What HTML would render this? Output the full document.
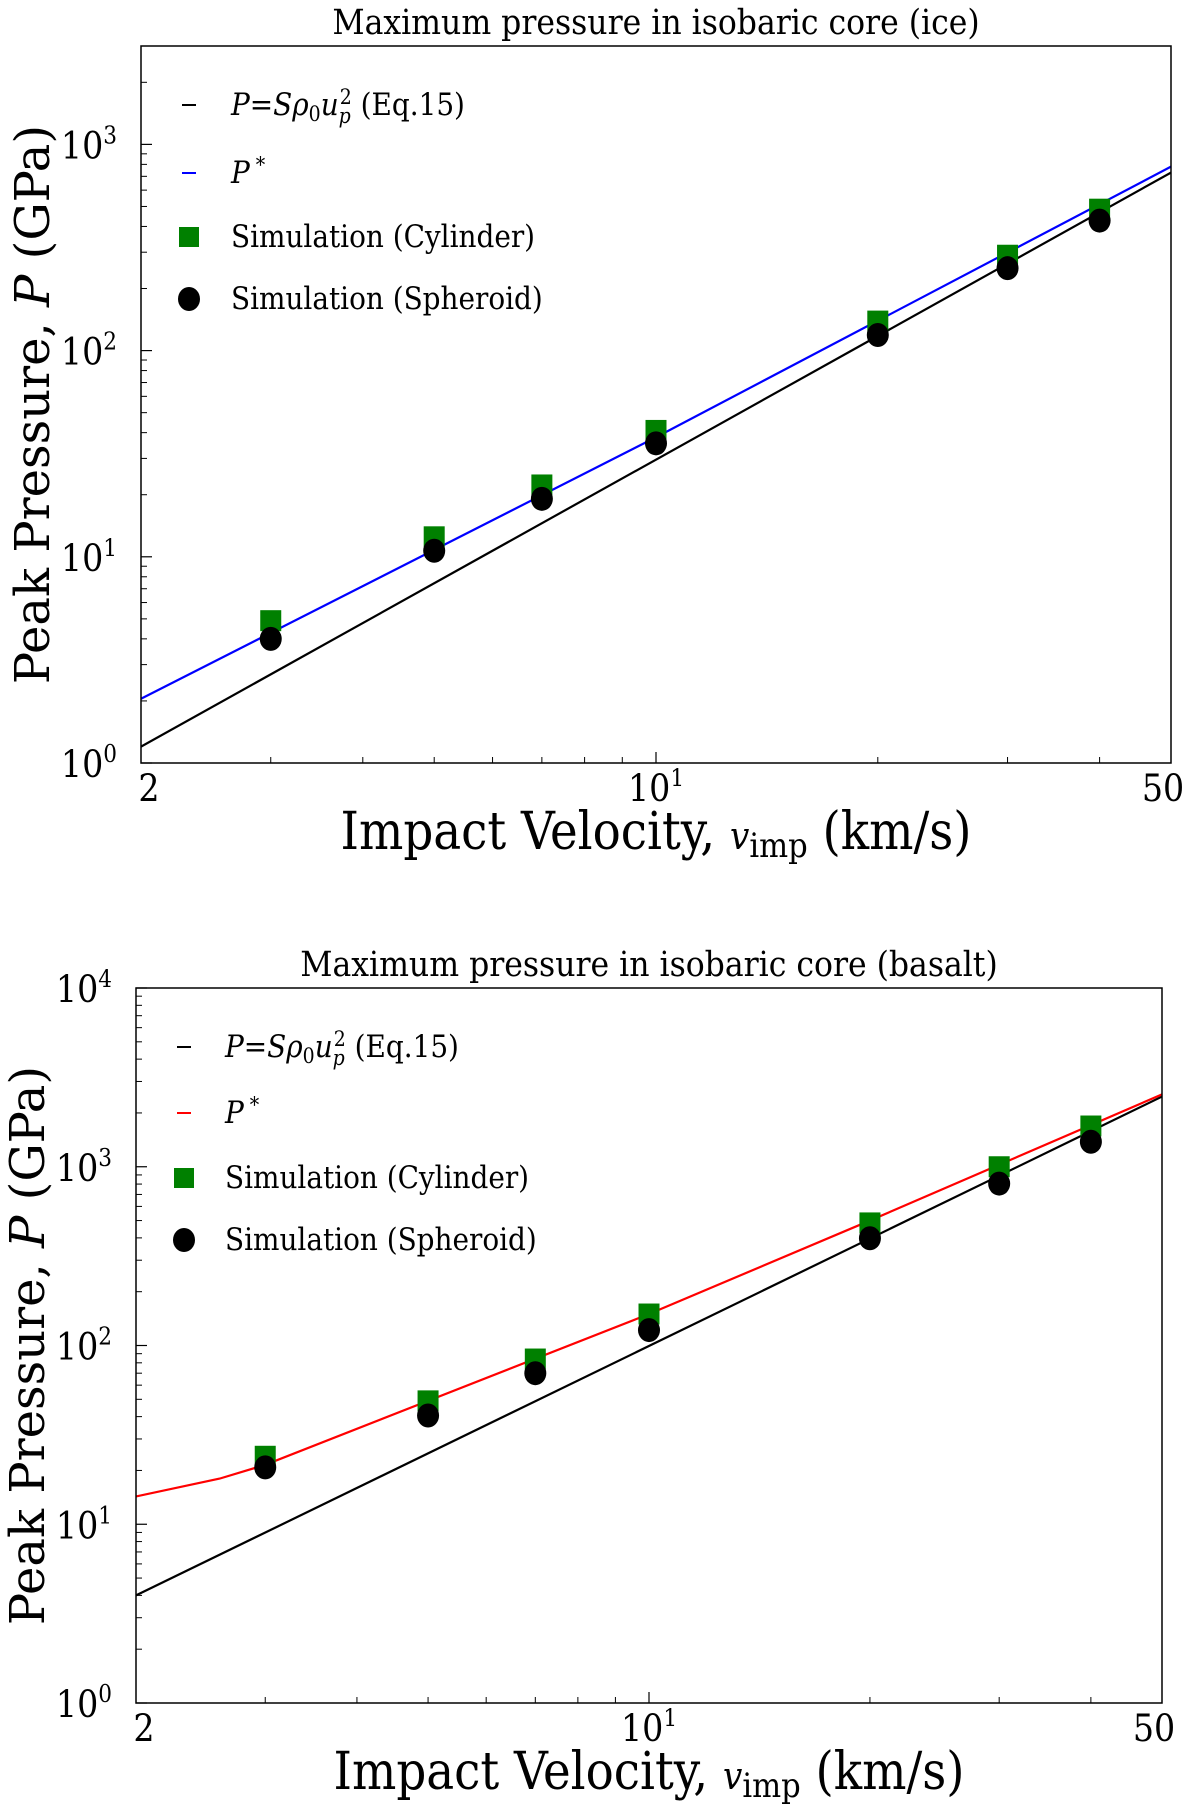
<!DOCTYPE html>
<html><head><meta charset="utf-8"><style>
body{margin:0;background:#fff}
svg text{font-family:"DejaVu Serif Condensed","DejaVu Serif","Liberation Serif",serif;font-stretch:condensed;fill:#000}
</style></head><body>
<svg id="fig" width="1200" height="1808" viewBox="0 0 1200 1808" xmlns="http://www.w3.org/2000/svg"></svg>
<script>
// ---- data: ice ----
const velocities = [3, 5, 7, 10, 20, 30, 40];
const iceCylinder = [4.9, 12.5, 22.3, 41, 139, 290, 485];
const iceSpheroid = [4.0, 10.7, 19.1, 35.5, 119, 251, 427];
const iceEqVel = [2, 50];
const iceEqP = [1.2, 730];
const iceStarVel = [2, 10, 50];
const iceStarP = [2.05, 38, 780];
// ---- data: basalt ----
const basCylinder = [24, 49, 84, 150, 485, 1000, 1690];
const basSpheroid = [20.8, 40.6, 70, 122, 398, 805, 1380];
const basEqVel = [2, 50];
const basEqP = [4.0, 2470];
const basStarVel = [2, 2.6, 3, 10, 20, 50];
const basStarP = [14.3, 18, 21.5, 150, 500, 2540];
const xTickLabels = ["2", "10", "50"];
const xTickValues = [2, 10, 50];

const NS = "http://www.w3.org/2000/svg";
const svg = document.getElementById('fig');
function mk(tag, attrs, parent) {
  const e = document.createElementNS(NS, tag);
  for (const k in attrs) e.setAttribute(k, attrs[k]);
  (parent || svg).appendChild(e);
  return e;
}

function drawPanel(cfg) {
  const g = mk('g', {});
  
  
  const lx0 = Math.log10(2), lx1 = Math.log10(50);
  const ly0 = Math.log10(cfg.ymin), ly1 = Math.log10(cfg.ymax);
  const X = v => cfg.L + (Math.log10(v) - lx0) / (lx1 - lx0) * (cfg.R - cfg.L);
  const Y = v => cfg.B - (Math.log10(v) - ly0) / (ly1 - ly0) * (cfg.B - cfg.T);

  const t = mk('text', {x: (cfg.L + cfg.R) / 2, y: cfg.T - 12, 'text-anchor': 'middle', 'font-size': 35}, g);
  t.textContent = cfg.title;
  
  

  const cid = cfg.name + '-clip';
  const cp = mk('clipPath', {id: cid}, g);
  mk('rect', {x: cfg.L, y: cfg.T, width: cfg.R - cfg.L, height: cfg.B - cfg.T}, cp);

  const minorX = [3,4,5,6,7,8,9,20,30,40];
  minorX.forEach(v => mk('line', {x1: X(v), x2: X(v), y1: cfg.B, y2: cfg.B - 6, stroke: '#000', 'stroke-width': 1}, g));
  xTickValues.forEach((v, i) => {
    if (v === 10) mk('line', {x1: X(v), x2: X(v), y1: cfg.B, y2: cfg.B - 11, stroke: '#000', 'stroke-width': 1.2}, g);
    const tx = mk('text', {x: X(v) + (i === 0 ? 8 : i === 2 ? -8 : 0), y: cfg.B + 38, 'text-anchor': 'middle', 'font-size': 37}, g);
    
    
    if (v === 10) { tx.textContent = '10'; const s = mk('tspan', {dy: -15, 'font-size': 24}, tx); s.textContent = '1'; }
    else tx.textContent = xTickLabels[i];
  });
  for (let d = ly0; d <= ly1; d++) {
    const base = Math.pow(10, d);
    mk('line', {x1: cfg.L, x2: cfg.L + 11, y1: Y(base), y2: Y(base), stroke: '#000', 'stroke-width': 1.2}, g);
    for (let m = 2; m <= 9; m++) {
      const v = base * m;
      if (v > cfg.ymax) break;
      mk('line', {x1: cfg.L, x2: cfg.L + 6, y1: Y(v), y2: Y(v), stroke: '#000', 'stroke-width': 1}, g);
    }
    const ty = mk('text', {x: cfg.L - 24, y: Y(base) + 14, 'text-anchor': 'end', 'font-size': 37}, g);
    
    
    ty.textContent = '10';
    const s = mk('tspan', {dy: -15, 'font-size': 24}, ty); s.textContent = String(d);
  }

  const pg = mk('g', {'clip-path': 'url(#' + cid + ')'}, g);
  function line(vs, ps, color, name) {
    const p = mk('polyline', {points: vs.map((v, i) => X(v) + ',' + Y(ps[i])).join(' '), fill: 'none', stroke: color, 'stroke-width': 2.2}, pg);
    
    
  }
  line(cfg.eqV, cfg.eqP, '#000', 'eq15-line');
  line(cfg.stV, cfg.stP, cfg.starColor, 'p-star-line');
  velocities.forEach((v, i) => {
    const r = mk('rect', {x: X(v) - 10.5, y: Y(cfg.cyl[i]) - 10.5, width: 21, height: 21, fill: '#008000'}, pg);
    
    
  });
  velocities.forEach((v, i) => {
    const c = mk('ellipse', {cx: X(v), cy: Y(cfg.sph[i]), rx: 11, ry: 12, fill: '#000'}, pg);
    
    
  });

  mk('rect', {x: cfg.L, y: cfg.T, width: cfg.R - cfg.L, height: cfg.B - cfg.T, fill: 'none', stroke: '#000', 'stroke-width': 1.5}, g);

  const lg = mk('g', {}, g);
  
  
  const lxm = cfg.legX, tx = cfg.legText, rows = cfg.legRows;
  mk('line', {x1: lxm - 7, x2: lxm + 7, y1: rows[0], y2: rows[0], stroke: '#000', 'stroke-width': 2}, lg);
  const e1 = mk('text', {x: tx, y: rows[0] + 10, 'font-size': 31}, lg);
  
  
  e1.innerHTML = '<tspan font-style="italic">P</tspan>=<tspan font-style="italic">Sρ</tspan><tspan font-size="21" dy="6">0</tspan><tspan font-style="italic" dy="-6">u</tspan><tspan font-size="21" font-style="italic" dy="8">p</tspan><tspan font-size="21" dx="-11" dy="-19">2</tspan><tspan dy="11"> (Eq.15)</tspan>';
  mk('line', {x1: lxm - 7, x2: lxm + 7, y1: rows[1], y2: rows[1], stroke: cfg.starColor, 'stroke-width': 2}, lg);
  const e2 = mk('text', {x: tx, y: rows[1] + 10, 'font-size': 31}, lg);
  
  
  e2.innerHTML = '<tspan font-style="italic">P</tspan><tspan font-size="21" dy="-11"> *</tspan>';
  mk('rect', {x: lxm - 10, y: rows[2] - 10, width: 20, height: 20, fill: '#008000'}, lg);
  const e3 = mk('text', {x: tx, y: rows[2] + 10, 'font-size': 31}, lg);
  
  
  e3.textContent = 'Simulation (Cylinder)';
  mk('ellipse', {cx: lxm, cy: rows[3], rx: 11, ry: 12, fill: '#000'}, lg);
  const e4 = mk('text', {x: tx, y: rows[3] + 10, 'font-size': 31}, lg);
  
  
  e4.textContent = 'Simulation (Spheroid)';

  const xl = mk('text', {x: (cfg.L + cfg.R) / 2, y: cfg.B + 86, 'text-anchor': 'middle', 'font-size': 52}, g);
  
  
  xl.innerHTML = 'Impact Velocity, <tspan font-style="italic" font-size="38">v</tspan><tspan font-size="34" dy="8">imp</tspan><tspan dy="-8"> (km/s)</tspan>';
  const cy = (cfg.T + cfg.B) / 2;
  const yl = mk('text', {x: 0, y: 0, 'text-anchor': 'middle', 'font-size': 48, transform: 'translate(' + (cfg.L - 92) + ',' + cy + ') rotate(-90)', style: 'font-family:"DejaVu Serif","Liberation Serif",serif;font-stretch:normal'}, g);
  
  
  yl.innerHTML = 'Peak Pressure, <tspan font-style="italic">P</tspan> (GPa)';
}

drawPanel({name: 'ice-panel', title: 'Maximum pressure in isobaric core (ice)', L: 141, R: 1171, T: 46, B: 763, ymin: 1, ymax: 3000,
  cyl: iceCylinder, sph: iceSpheroid, eqV: iceEqVel, eqP: iceEqP, stV: iceStarVel, stP: iceStarP, starColor: '#0000ff',
  legX: 189, legText: 231, legRows: [105, 173, 237, 299]});
drawPanel({name: 'basalt-panel', title: 'Maximum pressure in isobaric core (basalt)', L: 136, R: 1162, T: 988, B: 1703, ymin: 1, ymax: 10000,
  cyl: basCylinder, sph: basSpheroid, eqV: basEqVel, eqP: basEqP, stV: basStarVel, stP: basStarP, starColor: '#ff0000',
  legX: 184, legText: 225, legRows: [1047, 1113, 1178, 1240]});
</script>
</body></html>
